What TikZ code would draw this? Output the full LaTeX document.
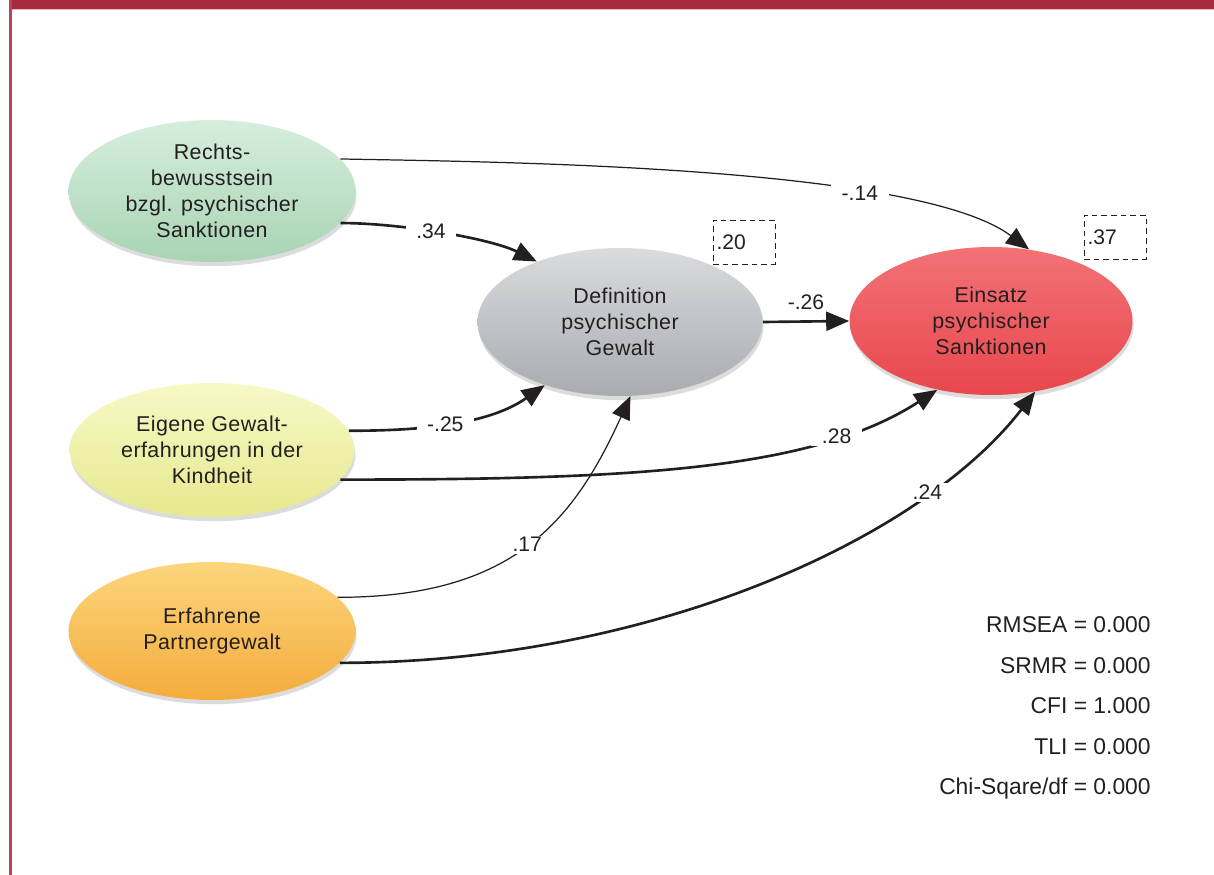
\documentclass[tikz,border=0pt]{standalone}
\usepackage{fontspec}
\setmainfont{Liberation Sans}
\usetikzlibrary{arrows.meta,positioning,shapes.geometric,shadows}
\definecolor{Frame}{HTML}{A72B40}
\definecolor{FrameLine}{HTML}{B94358}
\definecolor{FrameSoft}{HTML}{F2B9C3}
\definecolor{Ink}{HTML}{231F20}
\definecolor{GreenHi}{HTML}{D6EEDC}
\definecolor{Green}{HTML}{B4DDBF}
\definecolor{GreenLo}{HTML}{A8D4B4}
\definecolor{YellowHi}{HTML}{F7F8C6}
\definecolor{Yellow}{HTML}{EEF09C}
\definecolor{YellowLo}{HTML}{E6E98E}
\definecolor{OrangeHi}{HTML}{FCD57C}
\definecolor{Orange}{HTML}{F8BC50}
\definecolor{OrangeLo}{HTML}{F4AC3C}
\definecolor{GrayHi}{HTML}{D9DBDE}
\definecolor{Gray}{HTML}{B3B6BB}
\definecolor{GrayLo}{HTML}{A8ABB0}
\definecolor{RedHi}{HTML}{F27276}
\definecolor{Red}{HTML}{EE5055}
\definecolor{RedLo}{HTML}{E8474D}
\tikzset{
  factor/.style={ellipse,inner sep=0pt,align=center,text=Ink,font=\fontsize{12.2}{14.8}\selectfont\addfontfeature{LetterSpace=2},drop shadow={opacity=.28,shadow xshift=.6pt,shadow yshift=-2.4pt}},
  greenvar/.style={factor,top color=GreenHi,middle color=Green,bottom color=GreenLo},
  yellowvar/.style={factor,top color=YellowHi,middle color=Yellow,bottom color=YellowLo},
  orangevar/.style={factor,top color=OrangeHi,middle color=Orange,bottom color=OrangeLo},
  grayvar/.style={factor,top color=GrayHi,middle color=Gray,bottom color=GrayLo},
  redvar/.style={factor,top color=RedHi,middle color=Red,bottom color=RedLo},
  rsq/.style={draw=Ink,line width=.55pt,dash pattern=on 3.3pt off 2.2pt,text=Ink,font=\fontsize{12}{14}\selectfont,text width=1.1cm,inner xsep=2pt,align=left,minimum height=.88cm},
  coef/.style={fill=white,text=Ink,font=\fontsize{12}{14}\selectfont,inner xsep=6pt,inner ysep=1pt},
  strong/.style={-{Triangle[length=4.6mm,width=3.8mm]},draw=Ink,line width=1.5pt},
  weak/.style={-{Triangle[length=4.6mm,width=3.8mm]},draw=Ink,line width=.7pt},
  fitstat/.style={align=right,text=Ink,font=\fontsize{13}{23}\selectfont,inner sep=0pt}
}
\begin{document}
\begin{tikzpicture}[x=.02cm,y=.02cm]
  \useasboundingbox (0,0) rectangle (1214,-875);
  % frame
  \fill[Frame] (9,0) rectangle (1214,-9);
  \fill[FrameSoft] (12,-9) rectangle (1214,-10.5);
  \fill[FrameLine] (9,0) rectangle (12,-875);

  % variables
  \node[greenvar,minimum width=5.74cm,minimum height=2.84cm] (rechts) at (212,-191) {Rechts-\\bewusstsein\\bzgl. psychischer\\Sanktionen};
  \node[yellowvar,minimum width=5.7cm,minimum height=2.68cm] (gewalt) at (212,-450) {Eigene Gewalt-\\erfahrungen in der\\Kindheit};
  \node[orangevar,minimum width=5.74cm,minimum height=2.76cm] (partner) at (212,-631) {Erfahrene\\Partnergewalt};
  \node[grayvar,minimum width=5.7cm,minimum height=2.96cm] (definition) at (620,-322) {Definition\\psychischer\\Gewalt};
  \node[redvar,minimum width=5.66cm,minimum height=2.96cm] (einsatz) at (991,-321) {Einsatz\\psychischer\\Sanktionen};

  % explained variance
  \node[rsq] (r2def) at (744,-242) {.20};
  \node[rsq] (r2ein) at (1115,-237) {.37};

  % paths
  \draw[weak] (rechts.14) .. controls +(153,-3) and +(-112,84) .. (einsatz.62) node[coef,pos=.7] {-.14};
  \draw[strong] (rechts.-14) .. controls +(60,0) and +(-46,23) .. (definition.144) node[coef,pos=.44] {.34};
  \draw[strong] (definition.east) -- (einsatz.west) node[midway,above=5pt,text=Ink,font=\fontsize{12}{14}\selectfont,inner sep=1pt] {-.26};
  \draw[strong] (gewalt.8) .. controls +(69,0) and +(-57,-40) .. (definition.-140) node[coef,pos=.47] {-.25};
  \draw[strong] (gewalt.-13) .. controls +(289,0) and +(-125,-81) .. (einsatz.-128) node[coef,pos=.76] {.28};
  \draw[weak] (partner.15) .. controls +(173,0) and +(-58,-128) .. (definition.-82) node[coef,pos=.5] {.17};
  \draw[strong] (partner.-14) .. controls +(309,0) and +(-114,-148) .. (einsatz.-58) node[coef,pos=.76] {.24};

  % fit indices
  \node[fitstat,anchor=east] (fit) at (1151,-708) {RMSEA = 0.000\\SRMR = 0.000\\CFI = 1.000\\TLI = 0.000\\Chi-Sqare/df = 0.000};
\end{tikzpicture}
\end{document}
